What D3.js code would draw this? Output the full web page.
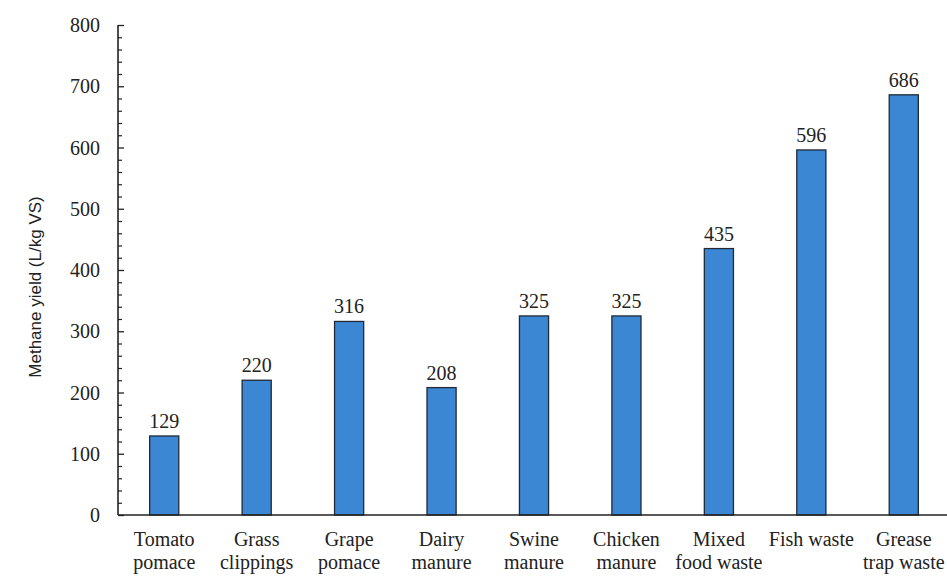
<!DOCTYPE html>
<html><head><meta charset="utf-8">
<script src="https://cdn.jsdelivr.net/npm/d3@7"></script>
<style>body{margin:0;background:#fff}svg{display:block}text{font-family:"Liberation Serif","Times New Roman",serif;fill:#222}</style>
</head><body><svg id="c" width="947" height="576"></svg>
<script>
const categories = [["Tomato","pomace"],["Grass","clippings"],["Grape","pomace"],["Dairy","manure"],["Swine","manure"],["Chicken","manure"],["Mixed","food waste"],["Fish waste"],["Grease","trap waste"]];
const values = [129,220,316,208,325,325,435,596,686];
const yTicks = [0,100,200,300,400,500,600,700,800];
const yLabel = "Methane yield (L/kg VS)";

const svg = d3.select("#c");
const x0 = 118, x1 = 950, yTop = 25, yBot = 515;
const fs = 20;
const keys = categories.map((c,i)=>i);
const x = d3.scaleBand().domain(keys).range([x0,x1]).paddingInner(0.685).paddingOuter(0.3425);
const y = d3.scaleLinear().domain([0,800]).range([yBot,yTop]);

// bars
svg.selectAll("rect.bar").data(values).join("rect").attr("class","bar")
  .attr("x",(d,i)=>x(i)).attr("width",x.bandwidth())
  .attr("y",d=>y(d)).attr("height",d=>yBot-y(d))
  .attr("fill","#3c87d3").attr("stroke","#1f2a36").attr("stroke-width",1.3);

// value labels
svg.selectAll("text.val").data(values).join("text").attr("class","val")
  .attr("x",(d,i)=>x(i)+x.bandwidth()/2).attr("y",d=>y(d)-8)
  .attr("text-anchor","middle").attr("font-size",fs).text(d=>d);

// y axis (ticks inward)
const yAxis = d3.axisRight(y).tickValues(yTicks).tickSize(6).tickFormat("");
const ga = svg.append("g").attr("transform",`translate(${x0},0)`).call(yAxis);
ga.select(".domain").remove();
ga.selectAll("line").attr("stroke","#222").attr("stroke-width",1.3);
const minor = d3.range(0,801,20).filter(v=>v%100!==0);
svg.append("g").attr("transform",`translate(${x0},0)`).call(d3.axisRight(y).tickValues(minor).tickSize(4).tickFormat(""))
  .call(g=>{g.select(".domain").remove();g.selectAll("line").attr("stroke","#222").attr("stroke-width",1.2);});
svg.append("line").attr("x1",x0).attr("x2",x0).attr("y1",yTop).attr("y2",yBot).attr("stroke","#222").attr("stroke-width",1.6);
svg.append("line").attr("x1",x0).attr("x2",947).attr("y1",yBot).attr("y2",yBot).attr("stroke","#222").attr("stroke-width",1.6);

// y tick labels
svg.selectAll("text.yt").data(yTicks).join("text").attr("class","yt")
  .attr("x",100).attr("y",d=>y(d)).attr("dy","0.35em").attr("text-anchor","end").attr("font-size",fs).text(d=>d);

// category labels
const cg = svg.selectAll("text.cat").data(categories).join("text").attr("class","cat")
  .attr("text-anchor","middle").attr("font-size",fs);
cg.each(function(d,i){
  const t = d3.select(this);
  d.forEach((line,j)=>{
    t.append("tspan").attr("x",x(i)+x.bandwidth()/2).attr("y",546+j*23).text(line);
  });
});

// y label
svg.append("text").attr("transform","translate(41,287) rotate(-90)").attr("text-anchor","middle")
  .attr("font-size",16).style("font-family","'Liberation Sans Narrow','Liberation Sans',sans-serif").style("font-size","17px").text(yLabel);
</script></body></html>
